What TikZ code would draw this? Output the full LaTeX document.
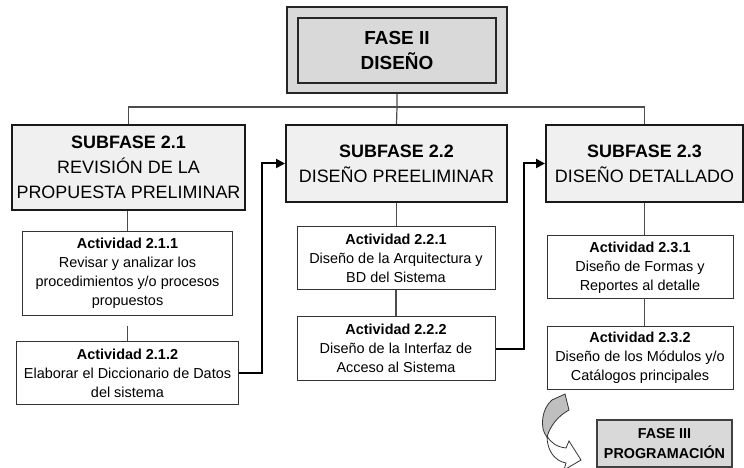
\documentclass[tikz,border=0pt]{standalone}
\usepackage{fontspec}
\setmainfont{Liberation Sans}
\usetikzlibrary{arrows.meta}
\definecolor{grisfase}{HTML}{D9D9D9}
\definecolor{grissub}{HTML}{F0F0F0}

\begin{document}
\begin{tikzpicture}[x=1bp,y=-1bp,>={Triangle[length=9bp,width=9bp]},
        caja/.style={draw,rectangle,inner sep=0pt,align=center},
        subfase/.style={caja,fill=grissub,draw=black!90,line width=2bp,minimum height=77bp,font=\fontsize{18}{25}\selectfont},
        actividad/.style={caja,fill=white,draw=black!80,line width=1bp,minimum height=63bp,font=\fontsize{14.5}{19}\selectfont},
        enlace/.style={draw=black!70,line width=1.2bp},
        flecha/.style={->,line width=2bp}]
            \useasboundingbox (0,0) rectangle (744,468);
            \node[caja,fill=grisfase,draw=black!85,line width=2bp,minimum width=220bp,minimum height=86bp] (faseII) at (397,50) {};
            \node[caja,fill=grisfase,draw=black!85,line width=1.5bp,minimum width=198bp,minimum height=65bp,
                font=\bfseries\fontsize{19}{26}\selectfont] (faseIIin) at (397,50.5) {FASE II\\DISEÑO};
            \node[subfase,minimum width=233bp,minimum height=85bp] (sub1) at (128.5,167.5)
                {\textbf{SUBFASE 2.1}\\REVISIÓN DE LA\\PROPUESTA PRELIMINAR};
            \node[subfase,minimum width=221bp] (sub2) at (396.5,163.5) {\textbf{SUBFASE 2.2}\\DISEÑO PREELIMINAR};
            \node[subfase,minimum width=197bp] (sub3) at (644.5,163.5) {\textbf{SUBFASE 2.3}\\DISEÑO DETALLADO};
            \node[actividad,minimum width=209bp,minimum height=83bp] (act211) at (127.5,273.5)
                {\textbf{Actividad 2.1.1}\\Revisar y analizar los\\procedimientos y/o procesos\\propuestos};
            \node[actividad,minimum width=221bp,minimum height=62bp] (act212) at (127.5,373)
                {\textbf{Actividad 2.1.2}\\Elaborar el Diccionario de Datos\\del sistema};
            \node[actividad,minimum width=198bp] (act221) at (396,258.5) {\textbf{Actividad 2.2.1}\\Diseño de la Arquitectura y\\BD del Sistema};
            \node[actividad,minimum width=198bp] (act222) at (396,348.5) {\textbf{Actividad 2.2.2}\\Diseño de la Interfaz de\\Acceso al Sistema};
            \node[actividad,minimum width=186bp] (act231) at (640,267.5) {\textbf{Actividad 2.3.1}\\Diseño de Formas y\\Reportes al detalle};
            \node[actividad,minimum width=186bp,minimum height=62bp] (act232) at (640,358) {\textbf{Actividad 2.3.2}\\Diseño de los Módulos y/o\\Catálogos principales};
            \node[caja,fill=grisfase,draw=black!75,line width=1.5bp,minimum width=135bp,minimum height=47bp,
                font=\bfseries\fontsize{14.4}{20}\selectfont] (faseIII) at (664.5,443.5) {FASE III\\PROGRAMACIÓN};
            \coordinate (barra) at (397,107);
            \draw[enlace] (faseII.south) -- (barra) -- (sub2.north);
            \draw[enlace] (sub1.north) |- (barra) -| (sub3.north);
            \draw[enlace] (act211.north) -- (act211.north |- sub1.south);
            \draw[enlace,shorten <=10bp] (act211.south) -- (act211.south |- act212.north);
            \draw[enlace] (sub2.south) -- (sub2.south |- act221.north);
            \draw[enlace] (act221.south) -- (act221.south |- act222.north);
            \draw[enlace] (sub3.south) -- (sub3.south |- act231.north);
            \draw[enlace] (sub3.south |- act231.south) -- (sub3.south |- act232.north);
            \draw[flecha] (act212.east) -- ++(23,0) |- (sub2.west);
            \draw[flecha] (act222.east) -- ++(28,0) |- (sub3.west);
            \draw[draw=black!80,line width=0.8bp,fill=white] (547,436) .. controls (551,443) and (557,447) .. (566,448)
                -- (569,441) -- (581,460) -- (564,470) -- (566,463) .. controls (555,461) and (547,451) .. (547,436) -- cycle;
            \draw[draw=black!80,line width=0.8bp,fill=black!25] (552,400) -- (565,394) -- (569,410)
                .. controls (558,416) and (550,426) .. (547,437) .. controls (539,428) and (542,408) .. (552,400) -- cycle;
        \end{tikzpicture}
\end{document}
